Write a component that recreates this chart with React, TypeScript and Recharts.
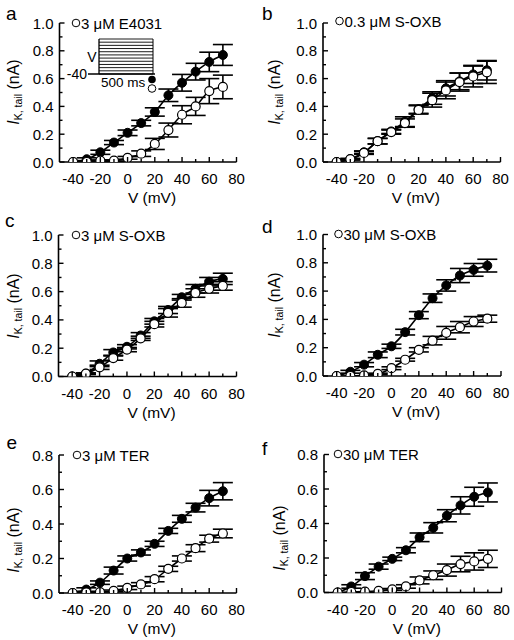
import React from "react";
import { ComposedChart, Line, Scatter, ErrorBar, XAxis, YAxis } from "recharts";

const FONT = "Arial, 'Liberation Sans', Helvetica, sans-serif";

// test potentials (mV)
const VOLTAGES = [-40, -30, -20, -10, 0, 10, 20, 30, 40, 50, 60, 70];
const X_TICKS = [-40, -30, -20, -10, 0, 10, 20, 30, 40, 50, 60, 70, 80];
const Y_TICKS_1 = [0, 0.1, 0.2, 0.3, 0.4, 0.5, 0.6, 0.7, 0.8, 0.9, 1.0];
const Y_TICKS_08 = [0, 0.1, 0.2, 0.3, 0.4, 0.5, 0.6, 0.7, 0.8];

// a: 3 µM E4031
const A_CTRL = [0, 0.02, 0.07, 0.14, 0.21, 0.28, 0.36, 0.48, 0.57, 0.65, 0.72, 0.77];
const A_CTRL_SEM = [0, 0.01, 0.015, 0.015, 0.02, 0.02, 0.03, 0.045, 0.06, 0.06, 0.07, 0.075];
const A_DRUG = [0, 0, 0.01, 0.01, 0.03, 0.06, 0.13, 0.23, 0.34, 0.4, 0.51, 0.54];
const A_DRUG_SEM = [0, 0, 0.005, 0.005, 0.01, 0.02, 0.04, 0.05, 0.065, 0.065, 0.09, 0.085];

// b: 0.3 µM S-OXB
const B_CTRL = [0, 0.02, 0.07, 0.15, 0.22, 0.29, 0.38, 0.46, 0.53, 0.58, 0.63, 0.66];
const B_CTRL_SEM = [0, 0.005, 0.01, 0.02, 0.015, 0.035, 0.03, 0.045, 0.055, 0.06, 0.065, 0.07];
const B_DRUG = [0, 0.02, 0.065, 0.15, 0.215, 0.28, 0.375, 0.445, 0.515, 0.575, 0.615, 0.645];
const B_DRUG_SEM = [0, 0.005, 0.01, 0.02, 0.015, 0.03, 0.03, 0.05, 0.06, 0.065, 0.075, 0.08];

// c: 3 µM S-OXB
const C_CTRL = [0, 0.02, 0.09, 0.17, 0.21, 0.29, 0.39, 0.47, 0.56, 0.62, 0.67, 0.69];
const C_CTRL_SEM = [0, 0.005, 0.02, 0.02, 0.015, 0.02, 0.02, 0.025, 0.02, 0.03, 0.03, 0.04];
const C_DRUG = [0, 0.02, 0.065, 0.13, 0.19, 0.27, 0.37, 0.45, 0.52, 0.59, 0.62, 0.64];
const C_DRUG_SEM = [0, 0.005, 0.015, 0.015, 0.015, 0.015, 0.02, 0.03, 0.03, 0.03, 0.03, 0.03];

// d: 30 µM S-OXB
const D_CTRL = [0, 0.03, 0.08, 0.15, 0.21, 0.31, 0.43, 0.55, 0.64, 0.71, 0.75, 0.78];
const D_CTRL_SEM = [0, 0.01, 0.015, 0.02, 0.015, 0.02, 0.025, 0.03, 0.04, 0.05, 0.045, 0.045];
const D_DRUG = [0, 0, 0.005, 0.015, 0.055, 0.115, 0.185, 0.25, 0.305, 0.345, 0.385, 0.405];
const D_DRUG_SEM = [0, 0, 0, 0.005, 0.01, 0.01, 0.015, 0.03, 0.045, 0.04, 0.035, 0.025];

// e: 3 µM TER
const E_CTRL = [0, 0.02, 0.06, 0.13, 0.2, 0.235, 0.285, 0.36, 0.43, 0.495, 0.55, 0.59];
const E_CTRL_SEM = [0, 0.01, 0.01, 0.02, 0.015, 0.015, 0.015, 0.015, 0.02, 0.025, 0.045, 0.05];
const E_DRUG = [0, 0.003, 0.005, 0.012, 0.03, 0.05, 0.08, 0.14, 0.2, 0.26, 0.315, 0.345];
const E_DRUG_SEM = [0, 0, 0, 0.005, 0.01, 0.01, 0.015, 0.015, 0.015, 0.02, 0.02, 0.025];

// f: 30 µM TER
const F_CTRL = [0, 0.035, 0.095, 0.15, 0.195, 0.245, 0.32, 0.375, 0.445, 0.505, 0.555, 0.58];
const F_CTRL_SEM = [0, 0.01, 0.02, 0.015, 0.01, 0.015, 0.025, 0.03, 0.035, 0.05, 0.055, 0.055];
const F_DRUG = [0, 0.003, 0.005, 0.01, 0.018, 0.035, 0.07, 0.1, 0.13, 0.165, 0.18, 0.195];
const F_DRUG_SEM = [0, 0, 0, 0, 0.005, 0.01, 0.02, 0.025, 0.035, 0.045, 0.05, 0.05];

const PANELS = [
  { id: "a", label: "3 μM E4031", ctrl: A_CTRL, ctrlSem: A_CTRL_SEM, drug: A_DRUG, drugSem: A_DRUG_SEM, yMax: 1, yTicks: Y_TICKS_1 },
  { id: "b", label: "0.3 μM S-OXB", ctrl: B_CTRL, ctrlSem: B_CTRL_SEM, drug: B_DRUG, drugSem: B_DRUG_SEM, yMax: 1, yTicks: Y_TICKS_1 },
  { id: "c", label: "3 μM S-OXB", ctrl: C_CTRL, ctrlSem: C_CTRL_SEM, drug: C_DRUG, drugSem: C_DRUG_SEM, yMax: 1, yTicks: Y_TICKS_1 },
  { id: "d", label: "30 μM S-OXB", ctrl: D_CTRL, ctrlSem: D_CTRL_SEM, drug: D_DRUG, drugSem: D_DRUG_SEM, yMax: 1, yTicks: Y_TICKS_1 },
  { id: "e", label: "3 μM TER", ctrl: E_CTRL, ctrlSem: E_CTRL_SEM, drug: E_DRUG, drugSem: E_DRUG_SEM, yMax: 0.8, yTicks: Y_TICKS_08 },
  { id: "f", label: "30 μM TER", ctrl: F_CTRL, ctrlSem: F_CTRL_SEM, drug: F_DRUG, drugSem: F_DRUG_SEM, yMax: 0.8, yTicks: Y_TICKS_08 },
];

// page placement: chart box (x0, y0, h) and plot area (l, t, r, b)
const LAYOUT: Record<string, any> = {
  a: { x0: 0, y0: 0, h: 210, l: 59.5, t: 23, r: 236.5, b: 162, letter: [6, 19.5], leg: [76, 23], ylab: [19, 92] },
  b: { x0: 257, y0: 0, h: 210, l: 323, t: 23, r: 500.5, b: 162, letter: [262, 19.5], leg: [339.5, 21], ylab: [280, 92] },
  c: { x0: 0, y0: 210, h: 210, l: 58.5, t: 235, r: 236.5, b: 376.5, letter: [5, 227], leg: [76, 235], ylab: [19, 306] },
  d: { x0: 257, y0: 210, h: 210, l: 323, t: 234.5, r: 501, b: 376, letter: [262, 232.5], leg: [338.5, 234], ylab: [280, 305] },
  e: { x0: 0, y0: 420, h: 220, l: 59, t: 455, r: 236.5, b: 593, letter: [6.5, 449], leg: [77, 455], ylab: [19, 540] },
  f: { x0: 257, y0: 420, h: 220, l: 324, t: 454.5, r: 501.5, b: 592.5, letter: [262, 455], leg: [338, 454], ylab: [284.5, 538] },
};

const Y_AXIS_W = 30;
const X_AXIS_H = 40;

function XTick(props: any) {
  const { x, y, payload } = props;
  const v = payload.value;
  const major = v % 20 === 0;
  return (
    <g>
      <line x1={x} x2={x} y1={y} y2={y - (major ? 5 : 3)} stroke="#000" strokeWidth={1.4} />
      {major && (
        <text x={x} y={y + 22} textAnchor="middle" fontSize={15} fontFamily={FONT} fill="#000">
          {v}
        </text>
      )}
    </g>
  );
}

function YTick(props: any) {
  const { x, y, payload } = props;
  const v = payload.value;
  const major = Math.round(v * 10) % 2 === 0;
  return (
    <g>
      <line x1={x} x2={x + (major ? 5 : 3)} y1={y} y2={y} stroke="#000" strokeWidth={1.4} />
      {major && (
        <text x={x - 6} y={y + 5.5} textAnchor="end" fontSize={15} fontFamily={FONT} fill="#000">
          {v.toFixed(1)}
        </text>
      )}
    </g>
  );
}

const filledDot = (p: any) => <circle cx={p.cx} cy={p.cy} r={4.5} fill="#000" stroke="#000" strokeWidth={1} />;
const openDot = (p: any) => <circle cx={p.cx} cy={p.cy} r={4.5} fill="#fff" stroke="#000" strokeWidth={1.2} />;

function Panel({ panel }: { panel: any }) {
  const L = LAYOUT[panel.id];
  const rows = VOLTAGES.map((v, i) => ({
    v,
    c: panel.ctrl[i],
    ce: panel.ctrlSem[i],
    d: panel.drug[i],
    de: panel.drugSem[i],
  }));
  const margin = {
    left: L.l - L.x0 - Y_AXIS_W,
    top: L.t - L.y0,
    right: L.x0 + 257 - L.r,
    bottom: L.y0 + L.h - L.b - X_AXIS_H,
  };
  const axisLine = { stroke: "#000", strokeWidth: 1.6 };
  return (
    <div style={{ position: "absolute", left: L.x0, top: L.y0 }}>
      <ComposedChart width={257} height={L.h} data={rows} margin={margin}>
        <XAxis
          type="number"
          dataKey="v"
          domain={[-50, 80]}
          ticks={X_TICKS}
          interval={0}
          tick={<XTick />}
          tickLine={false}
          tickSize={0}
          tickMargin={0}
          axisLine={axisLine}
          height={X_AXIS_H}
          allowDataOverflow
        />
        <YAxis
          type="number"
          domain={[0, panel.yMax]}
          ticks={panel.yTicks}
          interval={0}
          tick={<YTick />}
          tickLine={false}
          tickSize={0}
          tickMargin={0}
          axisLine={axisLine}
          width={Y_AXIS_W}
          allowDataOverflow
        />
        <Line dataKey="c" type="monotone" stroke="#000" strokeWidth={1.6} dot={false} isAnimationActive={false} />
        <Line dataKey="d" type="monotone" stroke="#000" strokeWidth={1.6} dot={false} isAnimationActive={false} />
        <Scatter dataKey="c" shape={filledDot} isAnimationActive={false}>
          <ErrorBar dataKey="ce" direction="y" width={10} stroke="#000" strokeWidth={1.6} />
        </Scatter>
        <Scatter dataKey="d" shape={openDot} isAnimationActive={false}>
          <ErrorBar dataKey="de" direction="y" width={10} stroke="#000" strokeWidth={1.6} />
        </Scatter>
      </ComposedChart>
    </div>
  );
}

function Annotations() {
  return (
    <svg width={514} height={640} style={{ position: "absolute", left: 0, top: 0, pointerEvents: "none" }}>
      {PANELS.map((p) => {
        const L = LAYOUT[p.id];
        const [yx, yy] = L.ylab;
        const cx = (L.l + L.r) / 2 + 4;
        return (
          <g key={p.id} fontFamily={FONT} fill="#000">
            <text x={L.letter[0]} y={L.letter[1]} fontSize={19}>
              {p.id}
            </text>
            <circle cx={L.leg[0]} cy={L.leg[1]} r={3.8} fill="#fff" stroke="#000" strokeWidth={1} />
            <text x={L.leg[0] + 5} y={L.leg[1] + 5.5} fontSize={15}>
              {p.label}
            </text>
            <text x={cx} y={L.b + 41} textAnchor="middle" fontSize={15.5}>
              V (mV)
            </text>
            <text x={yx} y={yy} textAnchor="middle" transform={`rotate(-90 ${yx} ${yy})`} fontSize={16}>
              <tspan fontStyle="italic">I</tspan>
              <tspan fontSize={10.5} dy={3}>K, tail</tspan>
              <tspan dy={-3}> (nA)</tspan>
            </text>
          </g>
        );
      })}
      {/* voltage protocol inset, panel a */}
      <g fontFamily={FONT} fill="#000">
        <text x={92} y={62} textAnchor="middle" fontSize={14}>V</text>
        <text x={87} y={78.5} textAnchor="end" fontSize={14}>-40</text>
        <line x1={88} x2={155} y1={74} y2={74} stroke="#000" strokeWidth={1.3} />
        {VOLTAGES.map((v, i) => (
          <line key={v} x1={99} x2={153} y1={74 - (i * 35) / 11} y2={74 - (i * 35) / 11} stroke="#000" strokeWidth={0.9} />
        ))}
        <line x1={99} x2={99} y1={39} y2={74} stroke="#000" strokeWidth={1.3} />
        <line x1={153} x2={153} y1={39} y2={74} stroke="#000" strokeWidth={1} />
        <text x={101} y={87} fontSize={13.5}>500 ms</text>
        <circle cx={152} cy={79.5} r={3.8} fill="#000" />
        <circle cx={152} cy={88.5} r={3.8} fill="#fff" stroke="#000" strokeWidth={1} />
      </g>
    </svg>
  );
}

export default function App() {
  return (
    <div style={{ position: "absolute", left: 0, top: 0, width: 514, height: 640, background: "#fff", overflow: "hidden" }}>
      {PANELS.map((p) => (
        <Panel key={p.id} panel={p} />
      ))}
      <Annotations />
    </div>
  );
}
